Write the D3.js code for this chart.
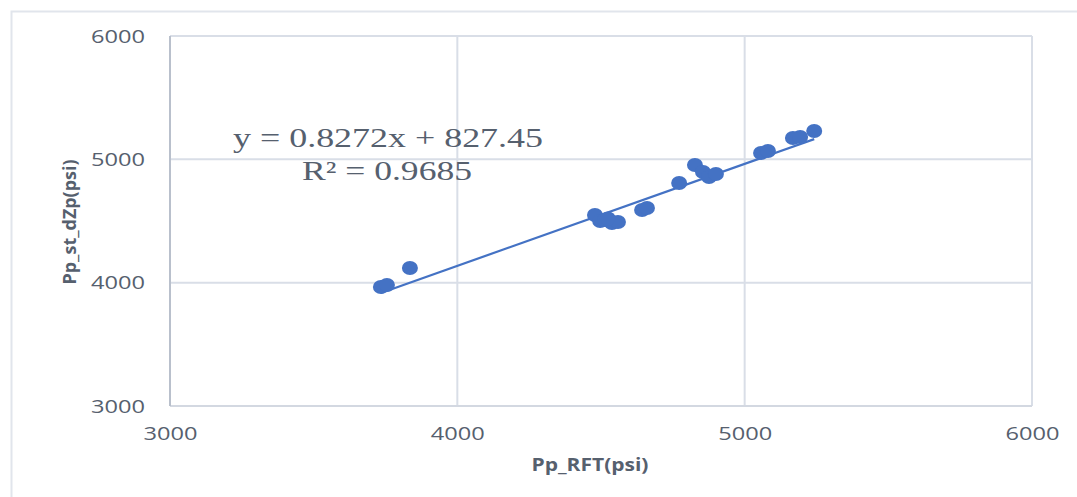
<!DOCTYPE html>
<html>
<head>
<meta charset="utf-8">
<script src="https://cdn.jsdelivr.net/npm/d3@7"></script>
<style>
  html, body { margin: 0; padding: 0; background: #fff; }
  svg { display: block; }
</style>
</head>
<body>
<svg id="chart" width="1077" height="497"></svg>
<script>
// Measured pore pressure: RFT vs. estimate from st_dZp (psi)
const rftPsi = [3734, 3755, 3835, 4479, 4497, 4514, 4538, 4559, 4524, 4643, 4660,
                4772, 4827, 4855, 4876, 4900, 5057, 5081, 5168, 5193, 5242];
const dzpPsi = [3965, 3981, 4119, 4549, 4500, 4508, 4484, 4492, 4520, 4589, 4605,
                4808, 4954, 4897, 4857, 4881, 5051, 5068, 5173, 5181, 5230];
const xTicks = [3000, 4000, 5000, 6000];
const yTicks = [3000, 4000, 5000, 6000];
const slope = 0.8272;
const intercept = 827.45;
const rSquared = 0.9685;

const svg = d3.select("#chart");
const plotLeft = 170, plotRight = 1032, plotTop = 36, plotBottom = 406;

const x = d3.scaleLinear().domain([3000, 6000]).range([plotLeft, plotRight]);
const y = d3.scaleLinear().domain([3000, 6000]).range([plotBottom, plotTop]);

const labelColor = "#56606e";
const gridColor = "#d9dee7";

// outer chart frame
svg.append("rect")
  .attr("x", 11.5).attr("y", 11.5)
  .attr("width", 1100).attr("height", 600)
  .attr("fill", "none").attr("stroke", "#e1e5ec").attr("stroke-width", 2);

// gridlines
svg.append("g").selectAll("line").data(xTicks.slice(1)).join("line")
  .attr("x1", d => x(d)).attr("x2", d => x(d))
  .attr("y1", plotTop).attr("y2", plotBottom)
  .attr("stroke", gridColor).attr("stroke-width", 2);
svg.append("g").selectAll("line").data(yTicks.slice(1)).join("line")
  .attr("x1", plotLeft).attr("x2", plotRight)
  .attr("y1", d => y(d)).attr("y2", d => y(d))
  .attr("stroke", gridColor).attr("stroke-width", 2);

// axis lines
svg.append("line").attr("x1", plotLeft).attr("x2", plotRight).attr("y1", plotBottom).attr("y2", plotBottom)
  .attr("stroke", "#d3d8e1").attr("stroke-width", 2);
svg.append("line").attr("x1", plotLeft).attr("x2", plotLeft).attr("y1", plotTop).attr("y2", plotBottom)
  .attr("stroke", "#b9c0cc").attr("stroke-width", 2);

// tick labels
const xAxis = d3.axisBottom(x).tickValues(xTicks).tickSize(0).tickPadding(0).tickFormat(d3.format("d"));
const gx = svg.append("g").attr("transform", `translate(0,${plotBottom})`).call(xAxis);
gx.select(".domain").remove();
gx.selectAll("text")
  .attr("y", 34).attr("dy", 0)
  .attr("font-family", "'Open Sans', sans-serif").attr("font-size", 18)
  .attr("fill", labelColor)
  .attr("textLength", 54).attr("lengthAdjust", "spacingAndGlyphs");

const yAxis = d3.axisLeft(y).tickValues(yTicks).tickSize(0).tickPadding(0).tickFormat(d3.format("d"));
const gy = svg.append("g").attr("transform", `translate(${plotLeft},0)`).call(yAxis);
gy.select(".domain").remove();
gy.selectAll("text")
  .attr("x", -25).attr("dy", "0.35em")
  .attr("font-family", "'Open Sans', sans-serif").attr("font-size", 18)
  .attr("fill", labelColor)
  .attr("textLength", 54).attr("lengthAdjust", "spacingAndGlyphs");

// axis titles
svg.append("text")
  .attr("x", 590).attr("y", 471)
  .attr("text-anchor", "middle")
  .attr("font-family", "'Open Sans', sans-serif").attr("font-weight", "bold")
  .attr("font-size", 17).attr("fill", labelColor)
  .attr("textLength", 117).attr("lengthAdjust", "spacingAndGlyphs")
  .text("Pp_RFT(psi)");
svg.append("text")
  .attr("transform", "translate(76,222) rotate(-90)")
  .attr("text-anchor", "middle")
  .attr("font-family", "'Open Sans', sans-serif").attr("font-weight", "bold")
  .attr("font-size", 17).attr("fill", labelColor)
  .attr("textLength", 125).attr("lengthAdjust", "spacingAndGlyphs")
  .text("Pp_st_dZp(psi)");

// trendline across the data range
const xExt = d3.extent(rftPsi);
const line = d3.line().x(d => x(d)).y(d => y(slope * d + intercept));
svg.append("path")
  .datum(xExt)
  .attr("d", line)
  .attr("fill", "none").attr("stroke", "#4472c4").attr("stroke-width", 2.2);

// data points
svg.append("g").selectAll("ellipse").data(rftPsi).join("ellipse")
  .attr("cx", (d) => x(d))
  .attr("cy", (d, i) => y(dzpPsi[i]))
  .attr("rx", 8).attr("ry", 7)
  .attr("fill", "#4472c4");

// regression equation
svg.append("text")
  .attr("x", 233).attr("y", 147)
  .attr("font-family", "'Liberation Serif', 'Times New Roman', serif")
  .attr("font-size", 27).attr("fill", labelColor)
  .attr("textLength", 310).attr("lengthAdjust", "spacingAndGlyphs")
  .text(`y = ${slope}x + ${intercept}`);
svg.append("text")
  .attr("x", 302).attr("y", 180)
  .attr("font-family", "'Liberation Serif', 'Times New Roman', serif")
  .attr("font-size", 27).attr("fill", labelColor)
  .attr("textLength", 170).attr("lengthAdjust", "spacingAndGlyphs")
  .text(`R² = ${rSquared}`);
</script>
</body>
</html>
